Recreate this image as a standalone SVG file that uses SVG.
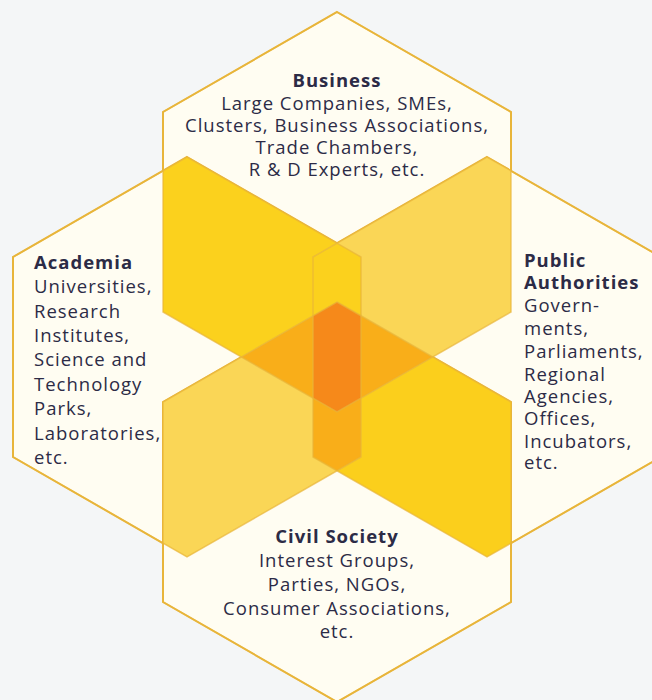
<svg xmlns="http://www.w3.org/2000/svg" xmlns:xlink="http://www.w3.org/1999/xlink" width="652" height="700" viewBox="0 0 652 700">
<style>
.hex{fill:#FFFDF2;stroke:#E8B53B;stroke-width:2}
.edge{fill:none;stroke:#E8B53B;stroke-width:1.5;stroke-opacity:0.7}
.t{font-family:"Open Sans","Noto Sans","DejaVu Sans",sans-serif;font-size:18.5px;letter-spacing:1px;fill:#2C2B46}
.b{font-weight:bold}
.m{text-anchor:middle}
</style>
<defs>
<polygon id="hB" points="337,12 511,112 511,312 337,412 163,312 163,112"/>
<polygon id="hA" points="187,157 361,257 361,457 187,557 13,457 13,257"/>
<polygon id="hP" points="487,157 661,257 661,457 487,557 313,457 313,257"/>
<polygon id="hC" points="337,302 511,402 511,602 337,702 163,602 163,402"/>
<clipPath id="cB"><polygon points="337,12 511,112 511,312 337,412 163,312 163,112"/></clipPath>
<clipPath id="cA"><polygon points="187,157 361,257 361,457 187,557 13,457 13,257"/></clipPath>
<clipPath id="cP"><polygon points="487,157 661,257 661,457 487,557 313,457 313,257"/></clipPath>
<clipPath id="cC"><polygon points="337,302 511,402 511,602 337,702 163,602 163,402"/></clipPath>
</defs>
<rect width="652" height="700" fill="#F4F6F7"/>
<g id="node-business">
<use href="#hB" class="hex"/>
</g>
<g id="node-academia">
<use href="#hA" class="hex"/>
</g>
<g id="node-public">
<use href="#hP" class="hex"/>
</g>
<g id="node-civil">
<use href="#hC" class="hex"/>
</g>
<g id="overlaps">
<g clip-path="url(#cB)"><use href="#hA" fill="#FBD11D"/></g>
<g clip-path="url(#cC)"><use href="#hP" fill="#FBCF1C"/></g>
<g clip-path="url(#cB)"><use href="#hP" fill="#FAD656"/></g>
<g clip-path="url(#cC)"><use href="#hA" fill="#FAD656"/></g>
<g clip-path="url(#cA)"><use href="#hP" fill="#FBD11D"/></g>
<g clip-path="url(#cA)"><g clip-path="url(#cP)"><use href="#hC" fill="#F9AE19"/></g></g>
<g clip-path="url(#cB)"><use href="#hC" fill="#F9AE19"/></g>
<g clip-path="url(#cA)"><g clip-path="url(#cP)"><g clip-path="url(#cB)"><use href="#hC" fill="#F6891A"/></g></g></g>
</g>
<g id="outlines">
<use href="#hB" class="edge"/>
<use href="#hA" class="edge"/>
<use href="#hP" class="edge"/>
<use href="#hC" class="edge"/>
</g>
<g id="labels">
<text class="t m" x="337"><tspan class="b" x="337" y="87">Business</tspan><tspan x="337" y="110">Large Companies, SMEs,</tspan><tspan x="337" y="132">Clusters, Business Associations,</tspan><tspan x="337" y="154">Trade Chambers,</tspan><tspan x="337" y="176">R &amp; D Experts, etc.</tspan></text>
<text class="t" x="34"><tspan class="b" x="34" y="269">Academia</tspan><tspan x="34" y="293">Universities,</tspan><tspan x="34" y="318">Research</tspan><tspan x="34" y="342">Institutes,</tspan><tspan x="34" y="366">Science and</tspan><tspan x="34" y="391">Technology</tspan><tspan x="34" y="415">Parks,</tspan><tspan x="34" y="440">Laboratories,</tspan><tspan x="34" y="464">etc.</tspan></text>
<text class="t" x="524"><tspan class="b" x="524" y="267">Public</tspan><tspan class="b" x="524" y="289">Authorities</tspan><tspan x="524" y="312">Govern-</tspan><tspan x="524" y="335">ments,</tspan><tspan x="524" y="358">Parliaments,</tspan><tspan x="524" y="381">Regional</tspan><tspan x="524" y="403">Agencies,</tspan><tspan x="524" y="425">Offices,</tspan><tspan x="524" y="448">Incubators,</tspan><tspan x="524" y="469">etc.</tspan></text>
<text class="t m" x="337"><tspan class="b" x="337" y="543">Civil Society</tspan><tspan x="337" y="567">Interest Groups,</tspan><tspan x="337" y="591">Parties, NGOs,</tspan><tspan x="337" y="615">Consumer Associations,</tspan><tspan x="337" y="638">etc.</tspan></text>
</g>
</svg>
